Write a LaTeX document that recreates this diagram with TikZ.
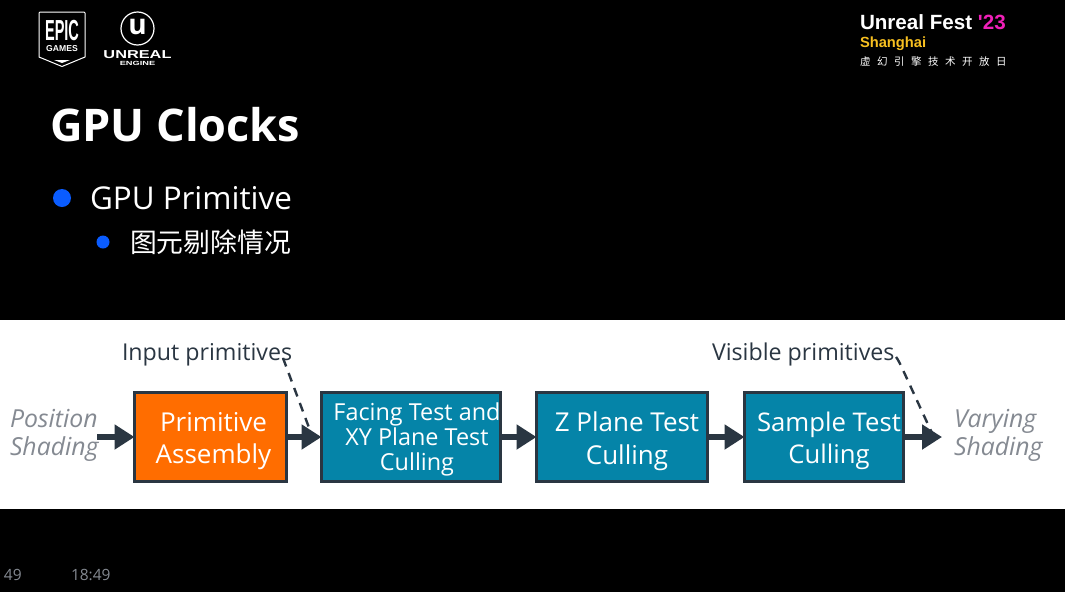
\documentclass[tikz,border=0pt]{standalone}
\usepackage{fontspec}
\setmainfont{Open Sans}
\newfontfamily\cjkfont{Noto Sans CJK SC}
\newfontfamily\cjkspaced[LetterSpace=62]{Noto Sans CJK SC}
\newfontfamily\heavyfont{Liberation Sans}
\usetikzlibrary{arrows.meta}
\definecolor{inkdark}{HTML}{2A3642}
\definecolor{boxorange}{HTML}{FF6D00}
\definecolor{boxteal}{HTML}{0584A8}
\definecolor{bulletblue}{HTML}{0A5CFF}
\definecolor{softgray}{HTML}{858A92}
\definecolor{fpink}{HTML}{F020B8}
\definecolor{fyellow}{HTML}{F8C020}
\tikzset{
  every node/.style={inner sep=0pt,outer sep=0pt},
  every label/.style={text=white,align=center},
  stagebox/.style={draw=inkdark,line width=3pt,fill=boxteal,minimum height=89pt},
  flowarrow/.style={draw=inkdark,line width=5.5pt,-{Triangle[length=20pt,width=24pt]}},
  calldash/.style={draw=inkdark,line width=2.4pt,dash pattern=on 9pt off 7pt},
  plainlabel/.style={text=inkdark,font=\fontsize{23.2}{26}\selectfont,anchor=base west},
  sidelabel/.style={text=softgray,font=\fontsize{24.8}{28}\selectfont\itshape,align=left,anchor=west},
}
\begin{document}
\begin{tikzpicture}[x=1pt,y=-1pt]
\useasboundingbox (0,0) rectangle (1065,592);
\fill[black] (0,0) rectangle (1065,592);
\fill[white] (0,320) rectangle (1065,508.5);

% Epic logo
\draw[white,line width=1pt,line join=round] (40,12) -- (84,12) -- (85,13) -- (85,57) -- (62,66.5) -- (39,57) -- (39,13) -- cycle;
\node[text=white,font=\heavyfont\bfseries\fontsize{29}{29}\selectfont,xscale=0.5] (epic) at (62,30.5) {EPIC};
\node[text=white,font=\heavyfont\bfseries\fontsize{8.6}{9}\selectfont] (games) at (62,49) {GAMES};
\fill[white] (54,60) -- (70,60) -- (62,63) -- cycle;

% Unreal logo
\draw[white,line width=1.2pt] (137.5,28.5) circle (16.5);
\node[text=white,font=\rmfamily\bfseries\fontsize{28}{28}\selectfont] (ulogo) at (137.5,26.5) {u};
\node[text=white,font=\heavyfont\bfseries\fontsize{11.5}{12}\selectfont,xscale=1.42] (unreal) at (137.5,55) {UNREAL};
\node[text=white,font=\heavyfont\bfseries\fontsize{6}{6}\selectfont,xscale=1.54] (engine) at (137.5,63.5) {ENGINE};

% Fest logo
\node[anchor=base west,font=\heavyfont\bfseries\fontsize{20.6}{21}\selectfont,text=white] (fest) at (860,29) {Unreal Fest \textcolor{fpink}{'23}};
\node[anchor=base west,font=\heavyfont\bfseries\fontsize{14.7}{15}\selectfont,text=fyellow] (sh) at (860,47) {Shanghai};
\node[anchor=base west,font=\cjkspaced\fontsize{10.5}{11}\selectfont,text=white] (cn) at (860,65) {虚幻引擎技术开放日};

% Title and bullets
\node[anchor=base west,text=white,font=\bfseries\fontsize{45}{50}\selectfont] (title) at (50,141) {GPU Clocks};
\fill[bulletblue] (62,198) circle (9);
\node[anchor=base west,text=white,font=\fontsize{31.4}{34}\selectfont] (b1) at (90,209) {GPU Primitive};
\fill[bulletblue] (103,242) circle (6.5);
\node[anchor=base west,text=white,font=\cjkfont\fontsize{26.8}{30}\selectfont] (b2) at (130,252) {图元剔除情况};

% Flow
\node[stagebox,fill=boxorange,minimum width=152pt,
  label={[font=\fontsize{26}{32}\selectfont,xshift=3pt,yshift=-4pt]center:Primitive\\Assembly}] (pa) at (210.5,437) {};
\node[stagebox,minimum width=179pt,
  label={[font=\fontsize{23.4}{25}\selectfont,xshift=6pt,yshift=-2pt]center:Facing Test and\\XY Plane Test\\Culling}] (ft) at (411,437) {};
\node[stagebox,minimum width=171pt,
  label={[font=\fontsize{26}{33}\selectfont,xshift=5pt,yshift=-4pt]center:Z Plane Test\\Culling}] (zp) at (622,437) {};
\node[stagebox,minimum width=159pt,
  label={[font=\fontsize{25.7}{32}\selectfont,xshift=5pt,yshift=-4pt]center:Sample Test\\Culling}] (st) at (824,437) {};

\node[sidelabel] (pos) at (10,435.5) {Position\\Shading};
\node[sidelabel] (var) at (954,435.5) {Varying\\Shading};
\node[plainlabel] (inp) at (122,360) {Input primitives};
\node[plainlabel] (vis) at (712,360) {Visible primitives};

\coordinate (posend) at (97,437);
\coordinate (varend) at (942,437);
\coordinate (inpstart) at (283,358);
\coordinate (inpend) at (311,433);
\coordinate (visstart) at (896,357);
\coordinate (visend) at (932,433);

\draw[calldash] (inpstart) -- (inpend);
\draw[calldash] (visstart) .. controls (899,360) and (905,375) .. (visend);
\draw[flowarrow] (posend) -- (pa.west);
\draw[flowarrow] (pa.east) -- (ft.west);
\draw[flowarrow] (ft.east) -- (zp.west);
\draw[flowarrow] (zp.east) -- (st.west);
\draw[flowarrow] (st.east) -- (varend);

% Footer
\node[anchor=base west,text=softgray,font=\fontsize{15.5}{18}\selectfont] (pg) at (4,580) {49};
\node[anchor=base west,text=softgray,font=\fontsize{15.5}{18}\selectfont] (tm) at (71,580) {18:49};
\end{tikzpicture}
\end{document}
